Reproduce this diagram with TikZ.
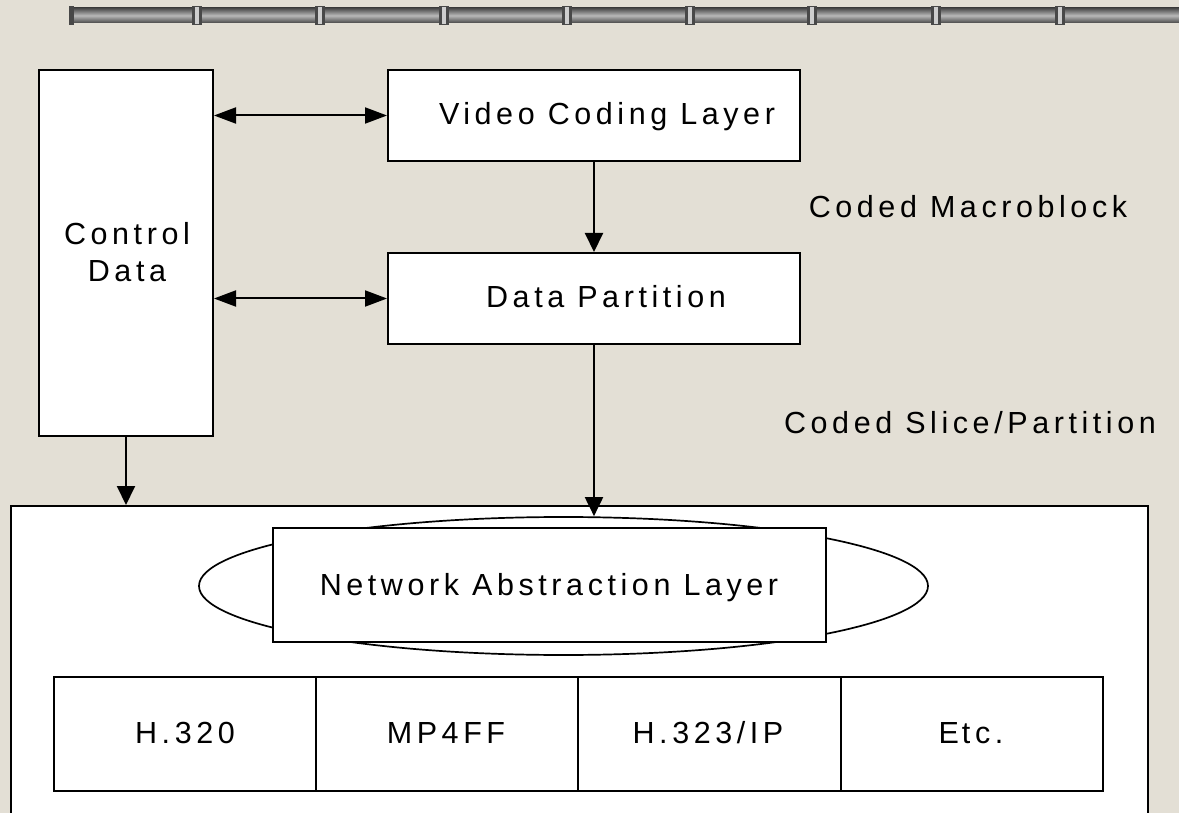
\documentclass[tikz,border=0pt]{standalone}
\usepackage{fontspec}
\setmainfont{Liberation Sans}
\newfontfamily\labfont[LetterSpace=15]{Liberation Sans}
\usetikzlibrary{arrows.meta,shapes.geometric}

\definecolor{paper}{RGB}{227,223,213}
\definecolor{pipedark}{RGB}{72,72,72}
\definecolor{pipemid}{RGB}{130,130,130}
\definecolor{pipelight}{RGB}{185,185,185}

\begin{document}
\begin{tikzpicture}[x=1pt,y=-1pt,
  box/.style={draw=black, fill=white, line width=2pt, rectangle, inner sep=0pt},
  txt/.style={font=\labfont\fontsize{30.5}{36}\selectfont, inner sep=0pt, anchor=base},
  arr/.style={line width=2pt, -{Triangle[length=19pt,width=18pt]}},
  dbl/.style={line width=2pt,
    {Triangle[length=22pt,width=16pt]}-{Triangle[length=22pt,width=16pt]}}]

% page and clipping
\fill[paper] (0,0) rectangle (1179,813);
\useasboundingbox (0,0) rectangle (1179,813);
\clip (0,0) rectangle (1179,813);

% decorative pipe along the top edge
\shade[top color=pipedark, bottom color=pipedark, middle color=pipelight]
  (70,8) rectangle (1179,23);
\fill[pipedark] (69,6) rectangle (74,25);
\foreach \jx in {197,320,444,567,690,812,936,1060}{
  \fill[pipedark] (\jx-5,6) rectangle (\jx+5,25);
  \fill[pipelight!70!white] (\jx-2,7) rectangle (\jx+2,24);
}

% upper blocks
\node[box, minimum width=174pt, minimum height=366pt] (ctrl) at (126,253) {};
\node[txt] (ctrlA) at (127,245) {Control};
\node[txt] (ctrlB) at (127,282) {Data};

\node[box, minimum width=412pt, minimum height=91pt] (vcl) at (594,115.5) {};
\node[txt] (vcltxt) at (607,125) {Video Coding Layer};

\node[box, minimum width=412pt, minimum height=91pt] (dp) at (594,298.5) {};
\node[txt] (dptxt) at (606,308) {Data Partition};

% side labels
\node[txt] (cmb) at (968,218) {Coded Macroblock};
\node[txt] (csp) at (970,433) {Coded Slice/Partition};

% lower container
\node[box, minimum width=1137pt, minimum height=340pt, anchor=north west] (nalbox) at (10,505) {};
\node[draw=black, fill=white, ellipse, line width=1.7pt, inner sep=0pt,
      minimum width=729pt, minimum height=138pt] (nalell) at (563.5,586) {};
\node[box, minimum width=553pt, minimum height=114pt] (nal) at (549.5,585) {};
\node[txt] (naltxt) at (549,595) {Network Abstraction Layer};

% transport row
\node[box, minimum width=262pt, minimum height=114pt] (h320) at (185,734) {};
\node[box, minimum width=262pt, minimum height=114pt] (mp4) at (447,734) {};
\node[box, minimum width=263pt, minimum height=114pt] (h323) at (709.5,734) {};
\node[box, minimum width=262pt, minimum height=114pt] (etc) at (972,734) {};
\node[txt] (h320txt) at (185,743) {H.320};
\node[txt] (mp4txt) at (446,743) {MP4FF};
\node[txt] (h323txt) at (708,743) {H.323/IP};
\node[txt] (etctxt) at (971,743) {E\kern3pt tc.};

% connectors
\draw[dbl] (ctrl.east |- vcl.west) -- (vcl.west);
\draw[dbl] (ctrl.east |- dp.west) -- (dp.west);
\draw[arr] (vcl.south) -- (dp.north);
\draw[arr] (dp.south) -- (dp.south |- nalell.north);
\draw[arr] (ctrl.south) -- (ctrl.south |- nalbox.north);
\end{tikzpicture}
\end{document}
